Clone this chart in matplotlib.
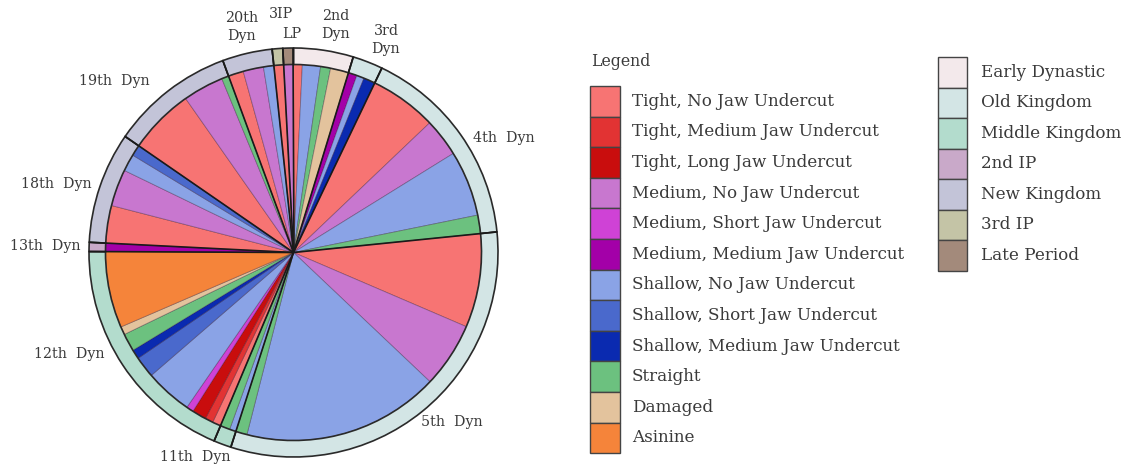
import matplotlib
matplotlib.use("Agg")
import numpy as np
import matplotlib.pyplot as plt
from matplotlib.patches import Rectangle

# Jaw-profile categories (legend order) and their colours
categories = [
    "Tight, No Jaw Undercut", "Tight, Medium Jaw Undercut", "Tight, Long Jaw Undercut",
    "Medium, No Jaw Undercut", "Medium, Short Jaw Undercut", "Medium, Medium Jaw Undercut",
    "Shallow, No Jaw Undercut", "Shallow, Short Jaw Undercut", "Shallow, Medium Jaw Undercut",
    "Straight", "Damaged", "Asinine",
]
category_colors = [
    "#f77473", "#e23333", "#c90d0d",
    "#c877cf", "#cf42d6", "#a300a8",
    "#8aa3e6", "#4a69cc", "#0a2ab0",
    "#6cc17f", "#e3c39d", "#f5843a",
]

# Periods and their ring colours
periods = ["Early Dynastic", "Old Kingdom", "Middle Kingdom", "2nd IP",
           "New Kingdom", "3rd IP", "Late Period"]
period_colors = ["#f3e9eb", "#d3e5e5", "#b3dccd", "#c9a9c9",
                 "#c3c4d8", "#c4c4a6", "#a38a7b"]

# Dynasties clockwise from the top, with their period
dynasties = ["2nd\nDyn", "3rd\nDyn", "4th  Dyn", "5th  Dyn", "11th  Dyn", "12th  Dyn",
             "13th  Dyn", "18th  Dyn", "19th  Dyn", "20th\nDyn", "3IP", "LP"]
dynasty_period = [0, 1, 1, 1, 2, 2, 3, 4, 4, 4, 5, 6]

# Share of each category within each dynasty (legend order)
dyn_2nd  = [2.7, 0, 0, 0, 0, 0, 5.6, 0, 0, 3.1, 5.6, 0]
dyn_3rd  = [0, 0, 0, 0, 0, 2.7, 2.3, 0, 3.6, 0, 0, 0]
dyn_4th  = [20.8, 0, 0, 11.8, 0, 0, 20.3, 0, 0, 5.7, 0, 0]
dyn_5th  = [29.0, 0, 0, 20.2, 0, 0, 60.9, 0, 0, 3.5, 0, 0]
dyn_11th = [0, 0, 0, 0, 0, 0, 2.0, 0, 0, 3.0, 0, 0]
dyn_12th = [2.6, 2.5, 4.4, 0, 2.2, 0, 14.6, 6.6, 2.9, 5.5, 2.5, 23.6]
dyn_13th = [0, 0, 0, 0, 0, 2.6, 0, 0, 0, 0, 0, 0]
dyn_18th = [11.6, 0, 0, 11.4, 0, 0, 5.3, 3.4, 0, 0, 0, 0]
dyn_19th = [20.4, 0, 0, 12.6, 0, 0, 0, 0, 0, 2.2, 0, 0]
dyn_20th = [4.7, 0, 0, 6.3, 0, 0, 3.2, 0, 0, 0, 0, 0]
dyn_3ip  = [3.0, 0, 0, 0, 0, 0, 0, 0, 0, 0, 0, 0]
dyn_lp   = [0, 0, 0, 3.0, 0, 0, 0, 0, 0, 0, 0, 0]
dynasty_values = [dyn_2nd, dyn_3rd, dyn_4th, dyn_5th, dyn_11th, dyn_12th,
                  dyn_13th, dyn_18th, dyn_19th, dyn_20th, dyn_3ip, dyn_lp]

# Label anchor points (pixel space, y measured from top)
label_xy = [(336, 25), (386, 40), (504, 138), (452, 422), (195, 457), (69, 354),
            (45, 246), (56, 184), (114, 81), (242, 27), (281, 14), (292, 34)]

W, H = 1130, 468
fig = plt.figure(figsize=(W / 100, H / 100), dpi=100)
ax = fig.add_axes([0, 0, 1, 1])
FONT = "DejaVu Serif"
TXT = "#3a3a3a"

cx, cy = 293.5, H - 252.5
R_out, R_in = 204.5, 188.0

# Inner pie: every category slice, dynasty by dynasty
inner_vals, inner_cols = [], []
for vals in dynasty_values:
    for v, c in zip(vals, category_colors):
        if v > 0:
            inner_vals.append(v)
            inner_cols.append(c)
ax.pie(inner_vals, colors=inner_cols, radius=R_in, center=(cx, cy),
       startangle=90, counterclock=False,
       wedgeprops=dict(edgecolor=(0.15, 0.05, 0.15, 0.35), linewidth=0.6))

# Outer ring: dynasties coloured by period
totals = [sum(v) for v in dynasty_values]
ring_cols = [period_colors[p] for p in dynasty_period]
ring, _ = ax.pie(totals, colors=ring_cols, radius=R_out, center=(cx, cy),
                 startangle=90, counterclock=False,
                 wedgeprops=dict(width=R_out - R_in, edgecolor="#2a2a2a", linewidth=1.2))

# Dark spokes at each dynasty boundary
for w in ring:
    t = np.deg2rad(w.theta1)
    ax.plot([cx, cx + R_out * np.cos(t)], [cy, cy + R_out * np.sin(t)],
            color="#1a1a1a", lw=1.2, solid_capstyle="butt", zorder=5)

for name, (x, y) in zip(dynasties, label_xy):
    ax.text(x, H - y, name, ha="center", va="center", fontsize=10.3, family=FONT,
            color=TXT, linespacing=1.3)

# Legend: categories
ax.text(591, H - 62, "Legend", ha="left", va="center", fontsize=11.3, family=FONT, color=TXT)
row_h = 30.6
for i, (lab, col) in enumerate(zip(categories, category_colors)):
    top = 86 + i * row_h
    ax.add_patch(Rectangle((590, H - top - row_h), 30, row_h, facecolor=col,
                           edgecolor="#444444", lw=1.0, zorder=3))
    ax.text(632, H - top - row_h / 2, lab, ha="left", va="center", fontsize=12.1,
            family=FONT, color=TXT)

# Legend: periods
row_h2 = 30.5
for i, (lab, col) in enumerate(zip(periods, period_colors)):
    top = 57 + i * row_h2
    ax.add_patch(Rectangle((938, H - top - row_h2), 29, row_h2, facecolor=col,
                           edgecolor="#444444", lw=1.0, zorder=3))
    ax.text(981, H - top - row_h2 / 2, lab, ha="left", va="center", fontsize=12.1,
            family=FONT, color=TXT)

ax.set_xlim(0, W)
ax.set_ylim(0, H)
ax.set_aspect("equal")
ax.axis("off")
fig.savefig("out.png", dpi=100, facecolor="white")
